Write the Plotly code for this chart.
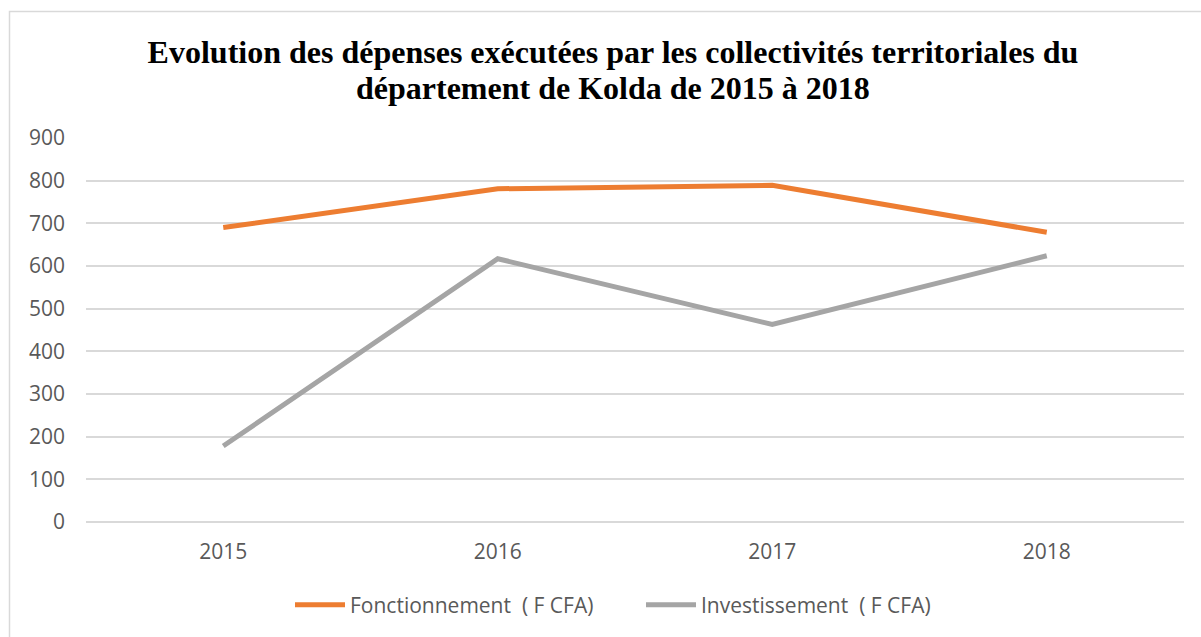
import plotly.graph_objects as go

years = ["2015", "2016", "2017", "2018"]
fonctionnement = [690, 781, 789, 679]
investissement = [178, 617, 463, 624]
series_names = ["Fonctionnement  ( F CFA)", "Investissement  ( F CFA)"]
title_line1 = "Evolution des dépenses exécutées par les collectivités territoriales du"
title_line2 = "département de Kolda de 2015 à 2018"

W, H = 1201, 637
ML, MR, MT, MB = 86, 17, 138, 115
PW, PH = W - ML - MR, H - MT - MB

def px_x(p):
    return (p - ML) / PW

def px_y(p):
    return (H - MB - p) / PH

fig = go.Figure()
fig.add_trace(go.Scatter(x=years, y=fonctionnement, mode="lines", name=series_names[0],
                         line=dict(color="#ED7D31", width=5), legend="legend"))
fig.add_trace(go.Scatter(x=years, y=investissement, mode="lines", name=series_names[1],
                         line=dict(color="#A5A5A5", width=5), legend="legend2"))

legend_font = dict(family="Open Sans", size=21, color="#595959")
title_font = dict(family="Liberation Serif", size=32, color="black", weight="bold")

fig.update_layout(
    width=W, height=H,
    margin=dict(l=ML, r=MR, t=MT, b=MB),
    paper_bgcolor="white", plot_bgcolor="white",
    title=dict(text=title_line1, x=613 / W, xanchor="center", y=1 - 52 / H, yanchor="middle",
               yref="container", font=title_font),
    annotations=[dict(text=title_line2, xref="paper", yref="paper", x=px_x(613), y=px_y(88),
                      xanchor="center", yanchor="middle", showarrow=False, font=title_font)],
    xaxis=dict(type="category", range=[-0.5, 3.5], showgrid=False, showline=False,
               zeroline=False, ticks="", tickfont=dict(family="Open Sans", size=21, color="#595959"),
               ticklabelstandoff=15),
    yaxis=dict(range=[0, 900], dtick=100, showgrid=True, gridcolor="#D9D9D9", gridwidth=1.5,
               zeroline=True, zerolinecolor="#D9D9D9", zerolinewidth=1.5, showline=False,
               ticks="", tickfont=dict(family="Open Sans", size=21, color="#595959"),
               ticklabelstandoff=20),
    legend=dict(x=px_x(290), xanchor="left", y=px_y(605), yanchor="middle",
                font=legend_font, itemwidth=50, bgcolor="rgba(0,0,0,0)"),
    legend2=dict(x=px_x(641), xanchor="left", y=px_y(605), yanchor="middle",
                 font=legend_font, itemwidth=50, bgcolor="rgba(0,0,0,0)"),
    showlegend=True,
    shapes=[dict(type="rect", xref="paper", yref="paper",
                 x0=px_x(9.5), x1=px_x(1210), y0=px_y(645), y1=px_y(11.5),
                 line=dict(color="#D9D9D9", width=1.5), fillcolor="rgba(0,0,0,0)", layer="below")],
)

fig.write_html("out.html", config={"displayModeBar": False},
               post_script="document.body.style.margin='0';")
